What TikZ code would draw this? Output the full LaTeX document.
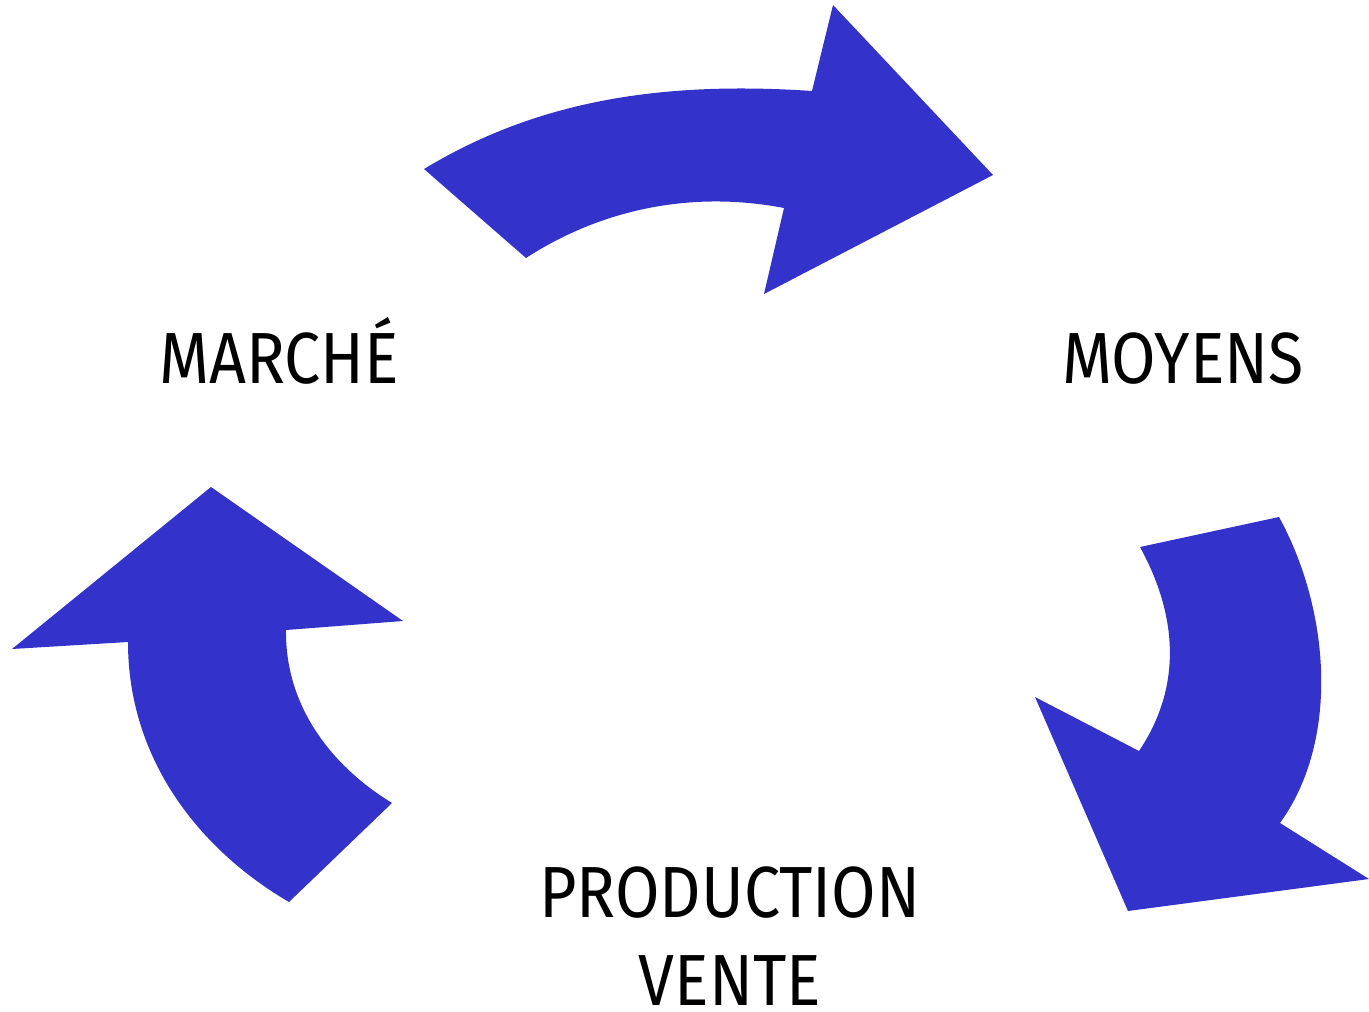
\documentclass[tikz,border=0pt]{standalone}
\usepackage{fontspec}
\setmainfont{Fira Sans}
\usepackage{tikz}
\usetikzlibrary{positioning,calc}
\definecolor{arrowblue}{RGB}{51,51,204}
\newcommand{\lbltxt}[1]{\scalebox{0.89}[1]{\fontsize{20.6}{25}\selectfont #1}}

\begin{document}
\begin{tikzpicture}[x=0.01cm, y=-0.01cm,
 cyclearrow/.style={fill=arrowblue, draw=none},
 lbl/.style={anchor=base, inner sep=0pt}]
\useasboundingbox (0,0) rectangle (1369,1012);
% top arrow: marche -> moyens
\path[cyclearrow] (424,169) .. controls (530,105) and (650,80) .. (812,91)
 -- (833,5) -- (993,175) -- (764,294) -- (784,208)
 .. controls (690,190) and (600,210) .. (526,258) -- cycle;
% right arrow: moyens -> production
\path[cyclearrow] (1279,517) .. controls (1330,610) and (1340,740) .. (1280,823)
 -- (1369,879) -- (1128,911) -- (1035,697) -- (1139,751)
 .. controls (1180,690) and (1180,620) .. (1140,547) -- cycle;
% left arrow: production -> marche
\path[cyclearrow] (289,902) .. controls (200,850) and (128,760) .. (128,642)
 -- (12,649) -- (211,487) -- (403,621) -- (286,630)
 .. controls (285,705) and (330,765) .. (392,803) -- cycle;
\node[lbl] (marche) at (279,383) {\lbltxt{MARCHÉ}};
\node[lbl] (moyens) at (1183,383) {\lbltxt{MOYENS}};
\node[lbl] (prod) at (730,917) {\lbltxt{PRODUCTION}};
\node[lbl] (vente) at (730,1005) {\lbltxt{VENTE}};
\end{tikzpicture}
\end{document}
